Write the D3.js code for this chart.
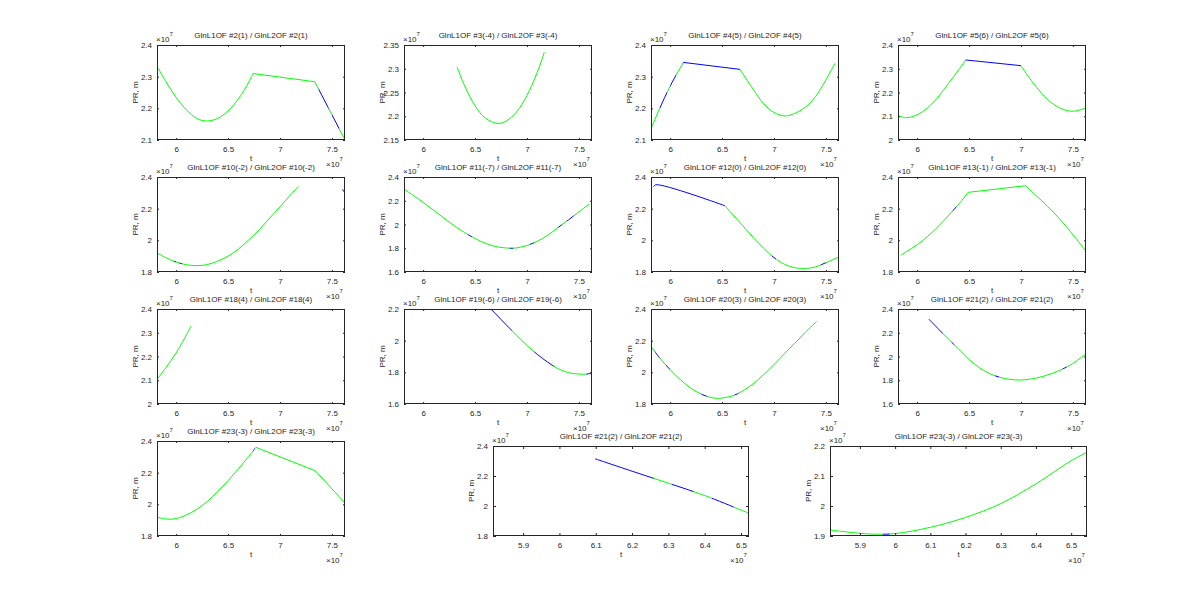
<!DOCTYPE html>
<html><head><meta charset="utf-8">
<script src="https://cdn.jsdelivr.net/npm/d3@7"></script>
<style>
body{margin:0;background:#fff}
text{font-family:"Liberation Sans",Arial,Helvetica,sans-serif;fill:#262626}
</style>
</head><body>
<svg id="fig" width="1200" height="602"></svg>
<script>
// ---------------- DATA ----------------
const titles = [
  "GlnL1OF #2(1) / GlnL2OF #2(1)",
  "GlnL1OF #3(-4) / GlnL2OF #3(-4)",
  "GlnL1OF #4(5) / GlnL2OF #4(5)",
  "GlnL1OF #5(6) / GlnL2OF #5(6)",
  "GlnL1OF #10(-2) / GlnL2OF #10(-2)",
  "GlnL1OF #11(-7) / GlnL2OF #11(-7)",
  "GlnL1OF #12(0) / GlnL2OF #12(0)",
  "GlnL1OF #13(-1) / GlnL2OF #13(-1)",
  "GlnL1OF #18(4) / GlnL2OF #18(4)",
  "GlnL1OF #19(-6) / GlnL2OF #19(-6)",
  "GlnL1OF #20(3) / GlnL2OF #20(3)",
  "GlnL1OF #21(2) / GlnL2OF #21(2)",
  "GlnL1OF #23(-3) / GlnL2OF #23(-3)",
  "GlnL1OF #21(2) / GlnL2OF #21(2)",
  "GlnL1OF #23(-3) / GlnL2OF #23(-3)"
];
const xLabel = "t";
const yLabel = "PR, m";
const expLabel = "7";

const xTicksGrid = [6, 6.5, 7, 7.5];
const xTicksWide = [5.9, 6, 6.1, 6.2, 6.3, 6.4, 6.5];
const xDomainGrid = [5.816, 7.626];
const xDomainWide14 = [5.817, 6.522];
const xDomainWide15 = [5.815, 6.545];

const yTicks = [
  [2.1, 2.2, 2.3, 2.4],
  [2.15, 2.2, 2.25, 2.3, 2.35],
  [2.1, 2.2, 2.3, 2.4],
  [2, 2.1, 2.2, 2.3, 2.4],
  [1.8, 2, 2.2, 2.4],
  [1.6, 1.8, 2, 2.2, 2.4],
  [1.8, 2, 2.2, 2.4],
  [1.8, 2, 2.2, 2.4],
  [2, 2.1, 2.2, 2.3, 2.4],
  [1.6, 1.8, 2, 2.2],
  [1.8, 2, 2.2, 2.4],
  [1.6, 1.8, 2, 2.2, 2.4],
  [1.8, 2, 2.2, 2.4],
  [1.8, 2, 2.2, 2.4],
  [1.9, 2, 2.1, 2.2]
];

// Pseudorange curves (t x1e7, PR x1e7 m), as segments of [t, PR]
const sv2 = [
  [[5.83,2.326],[5.9,2.285],[6.0,2.235],[6.1,2.195],[6.2,2.168],[6.29,2.16],[6.4,2.168],[6.5,2.192],[6.6,2.23],[6.7,2.283],[6.74,2.31]],
  [[6.74,2.31],[7.335,2.284]],
  [[7.335,2.284],[7.62,2.104]]
];
const sv2Green = [[5.8,7.37],[7.47,7.5],[7.57,7.7]];

const sv3 = [
  [[6.326,2.304],[6.4,2.264],[6.5,2.222],[6.6,2.196],[6.72,2.185],[6.8,2.19],[6.9,2.209],[7.0,2.244],[7.1,2.293],[7.167,2.335]]
];
const sv3Green = [[5.8,7.7]];

const sv4 = [
  [[5.815,2.135],[5.9,2.2],[6.0,2.27],[6.128,2.345]],
  [[6.128,2.345],[6.673,2.323]],
  [[6.673,2.323],[6.8,2.26],[6.9,2.215],[7.0,2.187],[7.106,2.176],[7.2,2.184],[7.3,2.203],[7.4,2.237],[7.5,2.29],[7.587,2.342]]
];
const sv4Green = [[5.8,5.9],[5.97,6.0],[6.06,6.12],[6.673,7.7]];

const sv5 = [
  [[5.826,2.101],[5.9,2.094],[6.0,2.106],[6.1,2.135],[6.2,2.18],[6.3,2.237],[6.4,2.295],[6.467,2.337]],
  [[6.467,2.337],[7.0,2.313]],
  [[7.0,2.313],[7.1,2.25],[7.2,2.196],[7.3,2.155],[7.4,2.13],[7.5,2.121],[7.626,2.135]]
];
const sv5Green = [[5.8,6.467],[7.0,7.7]];

const sv10 = [
  [[5.813,1.922],[5.9,1.891],[6.0,1.863],[6.1,1.846],[6.2,1.84],[6.3,1.847],[6.4,1.868],[6.5,1.9],[6.6,1.945],[6.7,2.003],[6.8,2.067],[6.9,2.14],[7.0,2.212],[7.1,2.286],[7.177,2.341]],
  [[7.6,2.322],[7.626,2.3]]
];
const sv10Green = [[5.8,5.98],[6.0,6.03],[6.06,7.3]];

const sv11 = [
  [[5.816,2.298],[5.9,2.248],[6.0,2.186],[6.1,2.121],[6.2,2.054],[6.3,1.989],[6.4,1.932],[6.5,1.882],[6.6,1.842],[6.7,1.814],[6.845,1.8],[6.9,1.803],[7.0,1.823],[7.1,1.859],[7.2,1.91],[7.3,1.975],[7.4,2.039],[7.5,2.107],[7.6,2.172]]
];
const sv11Green = [[5.8,6.43],[6.47,6.83],[6.87,7.03],[7.07,7.3],[7.34,7.38],[7.45,7.7]];

const sv12 = [
  [[5.84,2.338],[5.862,2.351],[6.529,2.218]],
  [[6.529,2.218],[6.6,2.165],[6.7,2.092],[6.8,2.018],[6.9,1.95],[7.0,1.891],[7.1,1.849],[7.2,1.827],[7.314,1.823],[7.4,1.832],[7.5,1.859],[7.625,1.895]]
];
const sv12Green = [[6.529,6.98],[7.02,7.45],[7.5,7.7]];

const sv13 = [
  [[5.842,1.906],[5.9,1.93],[6.0,1.972],[6.1,2.024],[6.2,2.086],[6.3,2.155],[6.4,2.228],[6.492,2.303]],
  [[6.492,2.303],[7.046,2.345]],
  [[7.046,2.345],[7.1,2.31],[7.2,2.25],[7.31,2.179],[7.4,2.115],[7.474,2.057],[7.55,1.995],[7.626,1.93]]
];
const sv13Green = [[5.8,6.34],[6.38,7.7]];

const sv18 = [
  [[5.813,2.102],[5.9,2.152],[6.0,2.215],[6.1,2.292],[6.145,2.329]]
];
const sv18Green = [[5.8,7.7]];

const sv19 = [
  [[6.64,2.208],[6.7,2.168],[6.8,2.1],[6.9,2.034],[7.0,1.97],[7.1,1.913],[7.2,1.864],[7.3,1.823],[7.4,1.798],[7.5,1.789],[7.58,1.789],[7.62,1.796]]
];
const sv19Green = [[6.86,7.07],[7.26,7.57]];

const sv20 = [
  [[5.814,2.166],[5.9,2.091],[6.0,2.017],[6.1,1.953],[6.2,1.9],[6.3,1.862],[6.4,1.84],[6.465,1.836],[6.6,1.851],[6.7,1.883],[6.8,1.928],[6.9,1.985],[7.0,2.049],[7.1,2.117],[7.2,2.183],[7.3,2.251],[7.41,2.321]]
];
const sv20Green = [[5.8,5.85],[5.9,5.96],[6.0,6.3],[6.36,6.62],[6.66,7.7]];

const sv21 = [
  [[6.113,2.315],[6.2,2.236],[6.3,2.148],[6.4,2.062],[6.5,1.975],[6.6,1.905],[6.7,1.855],[6.8,1.824],[6.9,1.807],[7.0,1.802],[7.15,1.819],[7.31,1.861],[7.474,1.928],[7.626,2.022]]
];
const sv21Green = [[6.25,6.33],[6.36,6.75],[6.79,7.4],[7.44,7.7]];

const sv23 = [
  [[5.814,1.918],[5.9,1.908],[5.94,1.906],[6.0,1.91],[6.1,1.933],[6.2,1.969],[6.3,2.018],[6.4,2.081],[6.5,2.149],[6.6,2.225],[6.7,2.303],[6.768,2.36]],
  [[6.768,2.36],[7.34,2.212]],
  [[7.34,2.212],[7.622,2.011]]
];
const sv23Green = [[5.8,6.74],[6.76,7.7]];

const sv21Wide = [
  [[6.098,2.315],[6.2,2.232],[6.3,2.152],[6.4,2.07],[6.5,1.973],[6.523,1.951]]
];
const sv21WideGreen = [[6.26,6.31],[6.37,6.42],[6.48,6.6]];

const sv23Wide = [
  [[5.815,1.92],[5.9,1.909],[5.947,1.906],[6.0,1.908],[6.1,1.929],[6.2,1.962],[6.3,2.008],[6.4,2.074],[6.5,2.151],[6.545,2.179]]
];
const sv23WideGreen = [[5.8,5.965],[5.985,6.6]];

const curves = [sv2, sv3, sv4, sv5, sv10, sv11, sv12, sv13, sv18, sv19, sv20, sv21, sv23, sv21Wide, sv23Wide];
const greens = [sv2Green, sv3Green, sv4Green, sv5Green, sv10Green, sv11Green, sv12Green, sv13Green,
                sv18Green, sv19Green, sv20Green, sv21Green, sv23Green, sv21WideGreen, sv23WideGreen];

// ---------------- LAYOUT ----------------
const colLefts = [157, 404, 651, 898];
const rowTops = [45, 177, 309, 441];
const gridW = 188, gridH = 95;
const boxes = [];
for (let i = 0; i < 13; i++) {
  const r = Math.floor(i / 4), c = i % 4;
  boxes.push({left: colLefts[c], top: rowTops[r], w: gridW, h: gridH, xd: xDomainGrid, xt: xTicksGrid});
}
boxes.push({left: 493, top: 446, w: 256, h: 90, xd: xDomainWide14, xt: xTicksWide});
boxes.push({left: 830, top: 446, w: 257, h: 90, xd: xDomainWide15, xt: xTicksWide});

const svg = d3.select("#fig");
const FS = 8;

boxes.forEach((b, i) => {
  const yd = [yTicks[i][0], yTicks[i][yTicks[i].length - 1]];
  const x = d3.scaleLinear().domain(b.xd).range([b.left, b.left + b.w]);
  const y = d3.scaleLinear().domain(yd).range([b.top + b.h, b.top]);
  const g = svg.append("g");
  const tl = Math.max(2, Math.round(b.w * 0.01));
  const L = b.left, R = b.left + b.w;

  // clip paths: green windows, blue = complement
  const defs = g.append("defs");
  const gc = defs.append("clipPath").attr("id", "green" + i);
  const bc = defs.append("clipPath").attr("id", "blue" + i);
  let cursor = L;
  greens[i].forEach(w => {
    const x0 = Math.max(L, x(w[0])), x1 = Math.min(R, x(w[1]));
    if (x1 > x0) {
      gc.append("rect").attr("x", x0).attr("y", b.top).attr("width", x1 - x0).attr("height", b.h);
      if (x0 > cursor) bc.append("rect").attr("x", cursor).attr("y", b.top).attr("width", x0 - cursor).attr("height", b.h);
      cursor = Math.max(cursor, x1);
    }
  });
  if (R > cursor) bc.append("rect").attr("x", cursor).attr("y", b.top).attr("width", R - cursor).attr("height", b.h);

  const line = d3.line().x(d => x(d[0])).y(d => y(d[1])).curve(d3.curveCatmullRom.alpha(0.5));

  const blueG = g.append("g").attr("clip-path", `url(#blue${i})`);
  curves[i].forEach(seg => {
    blueG.append("path").attr("d", line(seg)).attr("fill", "none")
      .attr("stroke", "#0000ff").attr("stroke-width", 1);
  });
  const greenG = g.append("g").attr("clip-path", `url(#green${i})`);
  curves[i].forEach(seg => {
    greenG.append("path").attr("d", line(seg)).attr("fill", "none")
      .attr("stroke", "#00ff00").attr("stroke-width", 1);
  });

  // axes
  const axB = g.append("g").attr("transform", `translate(0,${b.top + b.h})`)
    .call(d3.axisBottom(x).tickValues(b.xt).tickSizeInner(-tl).tickSizeOuter(0).tickPadding(6).tickFormat(d => String(d)));
  const axT = g.append("g").attr("transform", `translate(0,${b.top})`)
    .call(d3.axisTop(x).tickValues(b.xt).tickSizeInner(-tl).tickSizeOuter(0).tickFormat(""));
  const axL = g.append("g").attr("transform", `translate(${b.left},0)`)
    .call(d3.axisLeft(y).tickValues(yTicks[i]).tickSizeInner(-tl).tickSizeOuter(0).tickPadding(5).tickFormat(d => String(d)));
  const axR = g.append("g").attr("transform", `translate(${b.left + b.w},0)`)
    .call(d3.axisRight(y).tickValues(yTicks[i]).tickSizeInner(-tl).tickSizeOuter(0).tickFormat(""));
  [axB, axT, axL, axR].forEach(a => {
    a.select(".domain").remove();
    a.selectAll("line").attr("stroke", "#262626");
    a.selectAll("text").attr("font-size", FS).attr("font-family", '"Liberation Sans",Arial,sans-serif').attr("fill", "#262626");
  });

  g.append("rect").attr("x", b.left + 0.5).attr("y", b.top + 0.5)
    .attr("width", b.w - 1).attr("height", b.h - 1)
    .attr("fill", "none").attr("stroke", "#262626").attr("stroke-width", 1);

  // title
  g.append("text").attr("x", b.left + b.w / 2).attr("y", b.top - 7)
    .attr("text-anchor", "middle").attr("font-size", FS).text(titles[i]);
  // y exponent
  const ye = g.append("text").attr("x", b.left - 1).attr("y", b.top - 3).attr("font-size", FS);
  ye.append("tspan").text("×10");
  ye.append("tspan").attr("dy", -6).attr("font-size", 6).text(expLabel);
  // x exponent
  const xe = g.append("text").attr("x", b.left + b.w - 19).attr("y", b.top + b.h + 27).attr("font-size", FS);
  xe.append("tspan").text("×10");
  xe.append("tspan").attr("dy", -6).attr("font-size", 6).text(expLabel);
  // x label
  g.append("text").attr("x", b.left + b.w / 2).attr("y", b.top + b.h + 21)
    .attr("text-anchor", "middle").attr("font-size", FS).text(xLabel);
  // y label
  g.append("text").attr("transform", `translate(${b.left - 19.5},${b.top + b.h / 2}) rotate(-90)`)
    .attr("text-anchor", "middle").attr("font-size", FS).text(yLabel);
});
</script>
</body></html>
